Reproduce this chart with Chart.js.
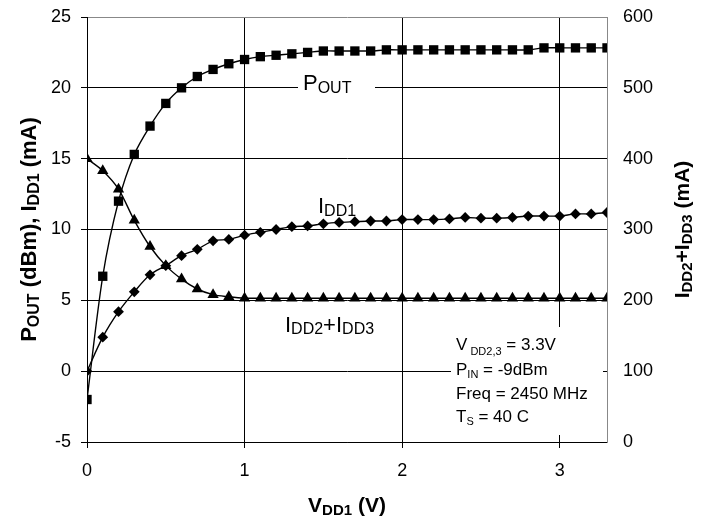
<!DOCTYPE html>
<html lang="en">
<head>
<meta charset="UTF-8">
<title>POUT, IDD1 and IDD2+IDD3 vs VDD1</title>
<script src="https://cdn.jsdelivr.net/npm/chart.js@4"></script>
<style>
  html, body { margin: 0; padding: 0; background: #fff; }
  #wrap { width: 708px; height: 519px; }
</style>
</head>
<body>
<div id="wrap"><canvas id="chart"></canvas></div>
<script>
// VDD1 sweep (V)
const vdd1 = [0, 0.1, 0.2, 0.3, 0.4, 0.5, 0.6, 0.7, 0.8, 0.9,
              1.0, 1.1, 1.2, 1.3, 1.4, 1.5, 1.6, 1.7, 1.8, 1.9,
              2.0, 2.1, 2.2, 2.3, 2.4, 2.5, 2.6, 2.7, 2.8, 2.9,
              3.0, 3.1, 3.2, 3.3];
// POUT (dBm), left axis
const pout = [-2.0, 6.7, 12.0, 15.3, 17.3, 18.9, 20.0, 20.8, 21.3, 21.7,
              22.0, 22.2, 22.3, 22.4, 22.5, 22.6, 22.6, 22.6, 22.6, 22.68,
              22.68, 22.68, 22.68, 22.68, 22.68, 22.68, 22.68, 22.68, 22.68, 22.82,
              22.82, 22.82, 22.82, 22.82];
// IDD1 (mA), left axis
const idd1 = [0, 2.4, 4.2, 5.6, 6.8, 7.45, 8.15, 8.6, 9.2, 9.3,
              9.6, 9.8, 10.0, 10.2, 10.25, 10.4, 10.5, 10.55, 10.6, 10.6,
              10.7, 10.7, 10.7, 10.75, 10.85, 10.8, 10.8, 10.85, 10.95, 10.95,
              10.95, 11.1, 11.1, 11.2];
// IDD2+IDD3 (mA), right axis
const idd23 = [400, 383, 357, 313, 276, 249, 230, 216, 208, 205,
               203, 203, 203, 203, 203, 203, 203, 203, 203, 203,
               203, 203, 203, 203, 203, 203, 203, 203, 203, 203,
               203, 203, 203, 203];
const xTicks = [0, 1, 2, 3];

const FONT = '"Liberation Sans", Arial, sans-serif';

// draws text made of [text, isSub] parts, y is the baseline
function richText(ctx, parts, x, y, size, subSize, subDrop, bold, align) {
  const w = bold ? 'bold ' : '';
  let total = 0;
  parts.forEach(([t, sub]) => {
    ctx.font = w + (sub ? subSize : size) + 'px ' + FONT;
    total += ctx.measureText(t).width;
  });
  let cx = align === 'center' ? x - total / 2 : x;
  ctx.textAlign = 'left';
  ctx.textBaseline = 'alphabetic';
  parts.forEach(([t, sub]) => {
    ctx.font = w + (sub ? subSize : size) + 'px ' + FONT;
    ctx.fillText(t, cx, y + (sub ? subDrop : 0));
    cx += ctx.measureText(t).width;
  });
}

const labelsPlugin = {
  id: 'labels',
  beforeDatasetsDraw(chart) {
    const ctx = chart.ctx;
    ctx.save();
    ctx.fillStyle = '#fff';
    ctx.fillRect(298, 74, 77, 24);      // behind POUT
    ctx.fillRect(451, 327, 152, 108);   // conditions box
    ctx.fillStyle = '#000';
    richText(ctx, [['P', 0], ['OUT', 1]], 303, 90, 22, 16, 2.5, false);
    richText(ctx, [['I', 0], ['DD1', 1]], 318, 213, 22, 16, 2.5, false);
    richText(ctx, [['I', 0], ['DD2', 1], ['+I', 0], ['DD3', 1]], 285, 331.5, 22, 16, 2.5, false);
    richText(ctx, [['V', 0], [' DD2,3', 1], [' = 3.3V', 0]], 456, 350, 17, 11, 5, false);
    richText(ctx, [['P', 0], ['IN', 1], [' = -9dBm', 0]], 456, 375, 17, 11, 3, false);
    richText(ctx, [['Freq = 2450 MHz', 0]], 456, 398.5, 17, 11, 3, false);
    richText(ctx, [['T', 0], ['S', 1], [' = 40 C', 0]], 456, 422, 17, 11, 3, false);
    ctx.restore();
  },
  afterDraw(chart) {
    const ctx = chart.ctx;
    const midY = (chart.chartArea.top + chart.chartArea.bottom) / 2;
    ctx.save();
    ctx.fillStyle = '#000';
    // left axis title
    ctx.save();
    ctx.translate(29, midY);
    ctx.rotate(-Math.PI / 2);
    richText(ctx, [['P', 0], ['OUT', 1], [' (dBm), I', 0], ['DD1', 1], [' (mA)', 0]], 0, 7, 22, 16, 3, true, 'center');
    ctx.restore();
    // right axis title
    ctx.save();
    ctx.translate(682, midY);
    ctx.rotate(-Math.PI / 2);
    richText(ctx, [['I', 0], ['DD2', 1], ['+I', 0], ['DD3', 1], [' (mA)', 0]], 0, 7, 21, 15, 3, true, 'center');
    ctx.restore();
    // x axis title
    richText(ctx, [['V', 0], ['DD1', 1], [' (V)', 0]], (chart.chartArea.left + chart.chartArea.right) / 2, 512, 21, 15, 3, true, 'center');
    ctx.restore();
  }
};

function series(values) {
  return values.map((v, i) => ({ x: vdd1[i], y: v }));
}

// pin the axis sizes so the plot area sits where the original has it
function fixY(width) {
  return s => { s.width = width; s.paddingTop = 0; s.paddingBottom = 0; };
}

const lineStyle = { borderColor: '#000', backgroundColor: '#000', borderWidth: 1.4, tension: 0.3,
                    pointBorderColor: '#000', pointBackgroundColor: '#000', pointBorderWidth: 0 };

new Chart(document.getElementById('chart'), {
  type: 'line',
  data: {
    datasets: [
      Object.assign({ label: 'POUT', data: series(pout), yAxisID: 'y', pointStyle: 'rect', pointRadius: 6.6 }, lineStyle),
      Object.assign({ label: 'IDD1', data: series(idd1), yAxisID: 'y', pointStyle: 'rectRot', pointRadius: 5.4 }, lineStyle),
      Object.assign({ label: 'IDD2+IDD3', data: series(idd23), yAxisID: 'y2', pointStyle: 'triangle', pointRadius: 6.5 }, lineStyle)
    ]
  },
  options: {
    responsive: true,
    maintainAspectRatio: false,
    animation: false,
    layout: { padding: { top: 17, left: 0, right: 0, bottom: 0 } },
    plugins: { legend: { display: false }, tooltip: { enabled: false } },
    scales: {
      x: {
        type: 'linear',
        min: 0,
        max: 3.3,
        afterBuildTicks: s => { s.ticks = xTicks.map(v => ({ value: v })); },
        afterFit: s => { s.height = 77; s.paddingLeft = 0; s.paddingRight = 0; },
        grid: { color: '#000', lineWidth: 1, tickLength: 6, tickColor: '#000' },
        border: { color: '#000', width: 1 },
        ticks: { color: '#000', font: { family: FONT, size: 18 }, padding: 12, maxRotation: 0 }
      },
      y: {
        position: 'left',
        min: -5,
        max: 25,
        afterFit: fixY(87),
        grid: { color: c => c.tick && c.tick.value === 25 ? '#888' : '#000', lineWidth: 1, tickLength: 6, tickColor: '#000' },
        border: { color: '#000', width: 1 },
        ticks: { stepSize: 5, color: '#000', font: { family: FONT, size: 18 }, padding: 10 }
      },
      y2: {
        position: 'right',
        min: 0,
        max: 600,
        afterFit: fixY(101),
        grid: { display: false, drawTicks: false },
        border: { display: true, color: '#888', width: 1 },
        ticks: { stepSize: 100, color: '#000', font: { family: FONT, size: 18 }, padding: 16 }
      }
    }
  },
  plugins: [labelsPlugin]
});
</script>
</body>
</html>
